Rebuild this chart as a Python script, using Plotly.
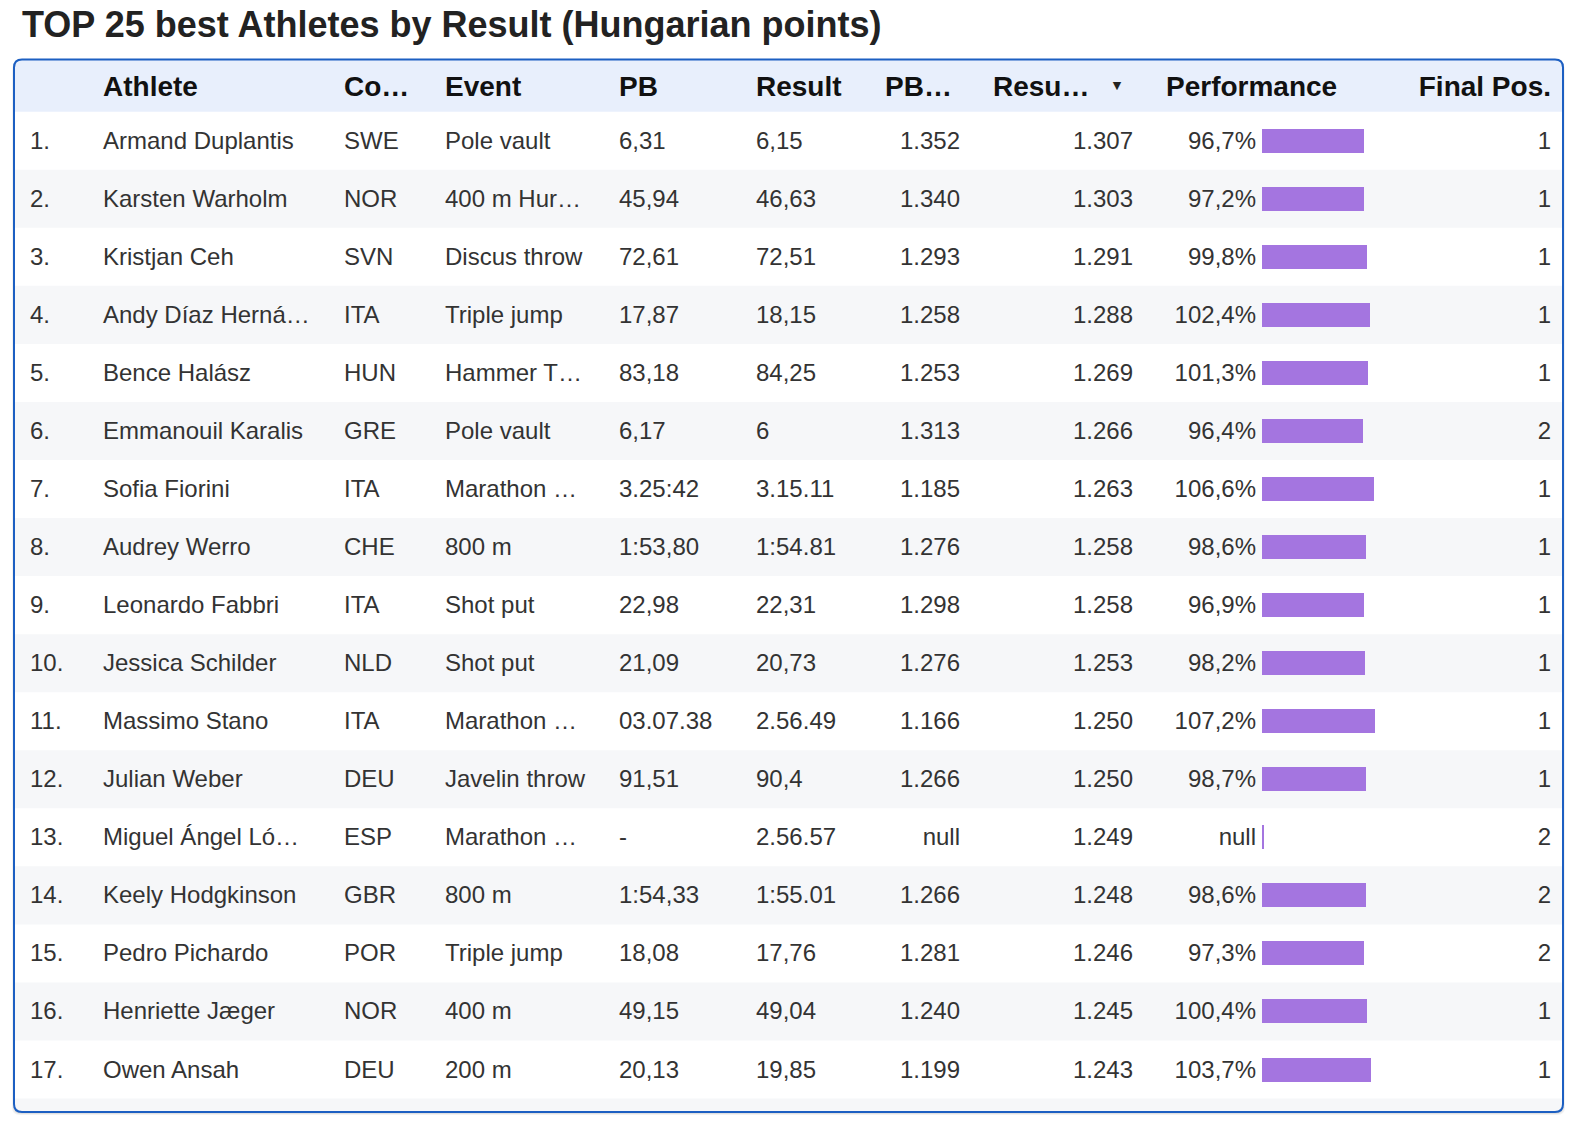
import plotly.graph_objects as go


# table values as shown (truncated labels kept as displayed)
ranks       = list(range(1, 18))
athletes    = ["Armand Duplantis", "Karsten Warholm", "Kristjan Ceh", "Andy Díaz Herná…", "Bence Halász",
               "Emmanouil Karalis", "Sofia Fiorini", "Audrey Werro", "Leonardo Fabbri", "Jessica Schilder",
               "Massimo Stano", "Julian Weber", "Miguel Ángel Ló…", "Keely Hodgkinson", "Pedro Pichardo",
               "Henriette Jæger", "Owen Ansah"]
countries   = ["SWE", "NOR", "SVN", "ITA", "HUN", "GRE", "ITA", "CHE", "ITA", "NLD",
               "ITA", "DEU", "ESP", "GBR", "POR", "NOR", "DEU"]
events      = ["Pole vault", "400 m Hur…", "Discus throw", "Triple jump", "Hammer T…", "Pole vault",
               "Marathon …", "800 m", "Shot put", "Shot put", "Marathon …", "Javelin throw",
               "Marathon …", "800 m", "Triple jump", "400 m", "200 m"]
pbs         = ["6,31", "45,94", "72,61", "17,87", "83,18", "6,17", "3.25:42", "1:53,80", "22,98", "21,09",
               "03.07.38", "91,51", "-", "1:54,33", "18,08", "49,15", "20,13"]
results     = ["6,15", "46,63", "72,51", "18,15", "84,25", "6", "3.15.11", "1:54.81", "22,31", "20,73",
               "2.56.49", "90,4", "2.56.57", "1:55.01", "17,76", "49,04", "19,85"]
pb_points   = [1352, 1340, 1293, 1258, 1253, 1313, 1185, 1276, 1298, 1276, 1166, 1266, None, 1266, 1281, 1240, 1199]
res_points  = [1307, 1303, 1291, 1288, 1269, 1266, 1263, 1258, 1258, 1253, 1250, 1250, 1249, 1248, 1246, 1245, 1243]
performance = [96.7, 97.2, 99.8, 102.4, 101.3, 96.4, 106.6, 98.6, 96.9, 98.2, 107.2, 98.7, None, 98.6, 97.3, 100.4, 103.7]
final_pos   = [1, 1, 1, 1, 1, 2, 1, 1, 1, 1, 1, 1, 2, 2, 2, 1, 1]

title       = "TOP 25 best Athletes by Result (Hungarian points)"
headers     = ["Athlete", "Co…", "Event", "PB", "Result", "PB…", "Resu…", "Performance", "Final Pos."]


# page geometry (pixels)
W, H        = 1584, 1132
L, T, R, B  = 14, 59.5, 1563, 1112
HEAD_BOT    = 111.7
ROW_H       = 58.05
TEXT_DY     = 2
BAR_X0      = 1261.5
PX_PER_PCT  = 1.05
FONT        = "Liberation Sans, Arial, Helvetica, sans-serif"
TXT         = "#333333"
PURPLE      = "#a475e0"


def fmt_points(v):
    return "null" if v is None else f"{v:,}".replace(",", ".")


def fmt_pct(v):
    return "null" if v is None else f"{v:.1f}%".replace(".", ",")


def rounded(x0, y0, x1, y1, r_top, r_bot):
    return (f"M {x0 + r_top},{y0} L {x1 - r_top},{y0} Q {x1},{y0} {x1},{y0 + r_top} "
            f"L {x1},{y1 - r_bot} Q {x1},{y1} {x1 - r_bot},{y1} L {x0 + r_bot},{y1} "
            f"Q {x0},{y1} {x0},{y1 - r_bot} L {x0},{y0 + r_top} Q {x0},{y0} {x0 + r_top},{y0} Z")


n       = len(ranks)
row_y   = [HEAD_BOT + (i + 0.5) * ROW_H for i in range(n)]
text_y  = [y + TEXT_DY for y in row_y]
head_y  = (T + HEAD_BOT) / 2 + 1 + TEXT_DY

# column: (x, text position, strings)
columns = [
    (30,   "middle right", [f"{r}." for r in ranks]),
    (103,  "middle right", athletes),
    (344,  "middle right", countries),
    (445,  "middle right", events),
    (619,  "middle right", pbs),
    (756,  "middle right", results),
    (960,  "middle left",  [fmt_points(v) for v in pb_points]),
    (1133, "middle left",  [fmt_points(v) for v in res_points]),
    (1256, "middle left",  [fmt_pct(v) for v in performance]),
    (1551, "middle left",  [str(v) for v in final_pos]),
]

head_cols = [
    (103, "middle right"), (344, "middle right"), (445, "middle right"), (619, "middle right"),
    (756, "middle right"), (885, "middle right"), (993, "middle right"), (1166, "middle right"),
    (1551, "middle left"),
]

fig = go.Figure()

for x, pos, strings in columns:
    fig.add_trace(go.Scatter(
        x = [x] * n, y = text_y, text = strings, mode = "text", textposition = pos,
        textfont = dict(family = FONT, size = 24, color = TXT),
        hoverinfo = "skip", showlegend = False,
    ))

for (x, pos), label in zip(head_cols, headers):
    fig.add_trace(go.Scatter(
        x = [x], y = [head_y], text = [label], mode = "text", textposition = pos,
        textfont = dict(family = FONT, size = 28, color = "#111111", weight = "bold"),
        hoverinfo = "skip", showlegend = False,
    ))

# sort indicator
fig.add_trace(go.Scatter(
    x = [1117], y = [(T + HEAD_BOT) / 2 + 0.5], text = ["▼"], mode = "text", textposition = "middle center",
    textfont = dict(family = "DejaVu Sans", size = 11, color = "#222222"),
    hoverinfo = "skip", showlegend = False,
))

# performance bars (null shown as a thin stub)
bar_vals = [v if v is not None else 2 / PX_PER_PCT for v in performance]
fig.add_trace(go.Bar(
    x = bar_vals, y = row_y, orientation = "h", xaxis = "x2", yaxis = "y",
    width = 24, marker = dict(color = PURPLE, line = dict(width = 0)),
    hoverinfo = "skip", showlegend = False,
))

# container, header and row bands
shapes = []
for k, a in ((3, 0.05), (2, 0.07), (1, 0.09)):
    shapes.append(dict(type = "path", path = rounded(L - k + 1, T + k, R + k - 1, B + k, 8, 8),
                       fillcolor = f"rgba(0,0,0,{a})", line = dict(width = 0), layer = "below"))
shapes.append(dict(type = "path", path = rounded(L, T, R, B, 8, 8),
                   fillcolor = "white", line = dict(width = 0), layer = "below"))
shapes.append(dict(type = "path", path = rounded(L, T, R, HEAD_BOT, 8, 0),
                   fillcolor = "#e8effc", line = dict(width = 0), layer = "below"))
for i in range(n + 1):
    if i % 2 == 1:
        y0 = HEAD_BOT + i * ROW_H
        y1 = min(y0 + ROW_H, B)
        if y1 >= B:
            shapes.append(dict(type = "path", path = rounded(L, y0, R, B, 0, 8),
                               fillcolor = "#f6f7f9", line = dict(width = 0), layer = "below"))
        else:
            shapes.append(dict(type = "rect", x0 = L, x1 = R, y0 = y0, y1 = y1,
                               fillcolor = "#f6f7f9", line = dict(width = 0), layer = "below"))
shapes.append(dict(type = "path", path = rounded(L, T, R, B, 8, 8),
                   fillcolor = "rgba(0,0,0,0)", line = dict(color = "#1c5fc2", width = 2), layer = "below"))

fig.update_layout(
    width = W, height = H,
    margin = dict(l = 0, r = 0, t = 0, b = 0),
    paper_bgcolor = "white", plot_bgcolor = "rgba(0,0,0,0)",
    xaxis = dict(range = [0, W], visible = False, fixedrange = True),
    xaxis2 = dict(domain = [BAR_X0 / W, (BAR_X0 + 300) / W], range = [0, 300 / PX_PER_PCT],
                  visible = False, fixedrange = True, anchor = "y"),
    yaxis = dict(range = [H, 0], visible = False, fixedrange = True),
    shapes = shapes,
    title = dict(text = f"<b>{title}</b>", x = 22 / W, xanchor = "left", y = 1 - 24.5 / H, yanchor = "middle",
                 font = dict(family = FONT, size = 36, color = "#222222")),
    bargap = 0,
)

fig.write_html(
    "out.html",
    config = {"displayModeBar": False},
    post_script = ("document.documentElement.style.overflow = 'hidden';"
                   "document.body.style.overflow = 'hidden';"
                   "document.body.style.margin = '0';"),
)
